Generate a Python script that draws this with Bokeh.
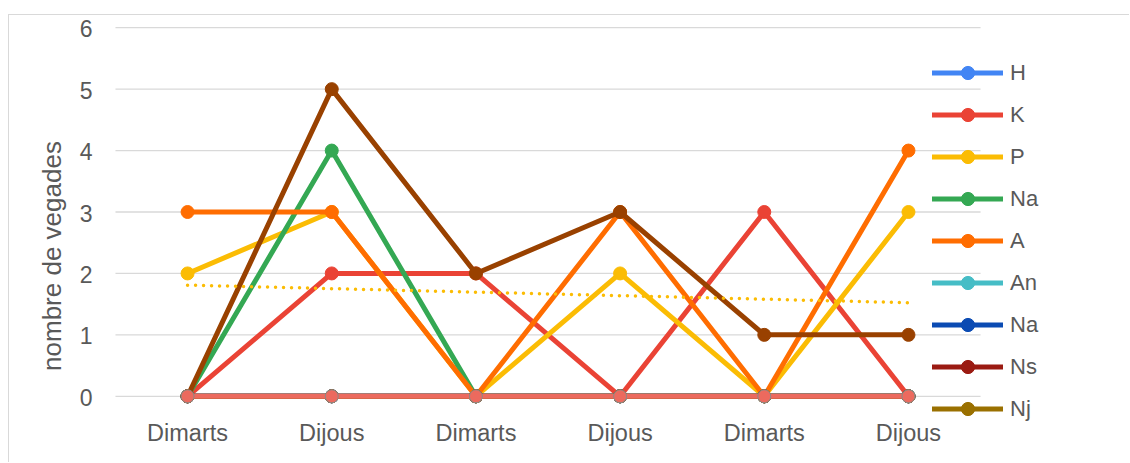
import numpy as np
from bokeh.plotting import figure
from bokeh.models import Range1d, Legend, LegendItem
from bokeh.embed import file_html
from bokeh.resources import INLINE

# ---- data ----
days = ["Dimarts", "Dijous", "Dimarts", "Dijous", "Dimarts", "Dijous"]
H = [0, 0, 0, 0, 0, 0]
K = [0, 2, 2, 0, 3, 0]
P = [2, 3, 0, 2, 0, 3]
Na = [0, 4, 0, 0, 0, 0]
A = [3, 3, 0, 3, 0, 4]
An = [0, 0, 0, 0, 0, 0]
Na2 = [0, 0, 0, 0, 0, 0]
Ns = [0, 0, 0, 0, 0, 0]
Nj = [0, 0, 0, 0, 0, 0]
S10 = [0, 5, 2, 3, 1, 1]
S11 = [0, 0, 0, 0, 0, 0]
y_ticks = [0, 1, 2, 3, 4, 5, 6]
y_title = "nombre de vegades"

series = [
    ("H", H, "#4285F4"),
    ("K", K, "#EA4335"),
    ("P", P, "#FBBC04"),
    ("Na", Na, "#34A853"),
    ("A", A, "#FF6D01"),
    ("An", An, "#46BDC6"),
    ("Na", Na2, "#0B4BB3"),
    ("Ns", Ns, "#9B1B12"),
    ("Nj", Nj, "#9A7000"),
    (None, S10, "#994100"),
    (None, S11, "#EC6A5E"),
]

TXT = "#595959"
FONT = "Liberation Sans"

x = list(range(len(days)))
x_left = x[0] - 0.5
x_right = x[-1] + 0.5

p = figure(width=1121, height=448, output_backend="svg", toolbar_location=None,
           x_range=Range1d(-1.235, 6.54), y_range=Range1d(-1.094, 6.15),
           min_border_left=0, min_border_right=0, min_border_top=3,
           min_border_bottom=0)
p.styles = {"margin-top": "14px", "margin-left": "8px",
            "border-top": "1px solid #D9D9D9",
            "border-left": "1px solid #D9D9D9"}
p.outline_line_color = None
p.background_fill_color = "white"
p.border_fill_color = "white"
p.xgrid.grid_line_color = None
p.ygrid.grid_line_color = None
p.xaxis.visible = False
p.yaxis.visible = False

# horizontal gridlines spanning the category area only
p.segment(x0=[x_left] * len(y_ticks), x1=[x_right] * len(y_ticks),
          y0=y_ticks, y1=y_ticks, line_color="#D9D9D9", line_width=1.3)

# y tick labels
p.text(x=[x_left] * len(y_ticks), y=y_ticks, text=[str(t) for t in y_ticks],
       x_offset=-23, y_offset=1, text_align="right", text_baseline="middle",
       text_color=TXT, text_font_size="23px", text_font={"value": FONT})

# y axis title
p.text(x=[x_left], y=[np.mean(y_ticks)], text=[y_title], angle=np.pi / 2,
       x_offset=-63, y_offset=44, text_align="center", text_baseline="middle",
       text_color=TXT, text_font_size="26px", text_font={"value": FONT})

# category labels under the zero line
p.text(x=x, y=[0] * len(x), text=days, y_offset=37, text_align="center",
       text_baseline="alphabetic", text_color=TXT, text_font_size="23.5px",
       text_font={"value": FONT})

items = []
for name, vals, col in series:
    ln = p.line(x, vals, line_color=col, line_width=5, line_join="round", line_cap="round")
    if col == "#EC6A5E":
        mk = p.scatter(x, vals, size=13, fill_color=col, line_color="#8A8A8A", line_width=1)
    else:
        mk = p.scatter(x, vals, size=13, fill_color=col, line_color=col, line_width=1)
    if name is not None:
        items.append(LegendItem(label=name, renderers=[ln, mk]))

# linear trendline for P
coef = np.polyfit(np.array(x, dtype=float), np.array(P, dtype=float), 1)
tx = [x[0], x[-1]]
ty = [coef[0] * v + coef[1] for v in tx]
p.line(tx, ty, line_color="#FBBC04", line_width=3.5, line_dash="0 8", line_cap="round")

legend = Legend(items=items, location=(923, 38), orientation="vertical",
                glyph_width=71, glyph_height=33, label_height=24, spacing=9,
                label_standoff=7, padding=0, margin=0,
                border_line_color=None, background_fill_alpha=0,
                label_text_font=FONT, label_text_font_size="22px",
                label_text_color=TXT)
p.add_layout(legend, "center")

open("out.html", "w").write(file_html(p, INLINE))
